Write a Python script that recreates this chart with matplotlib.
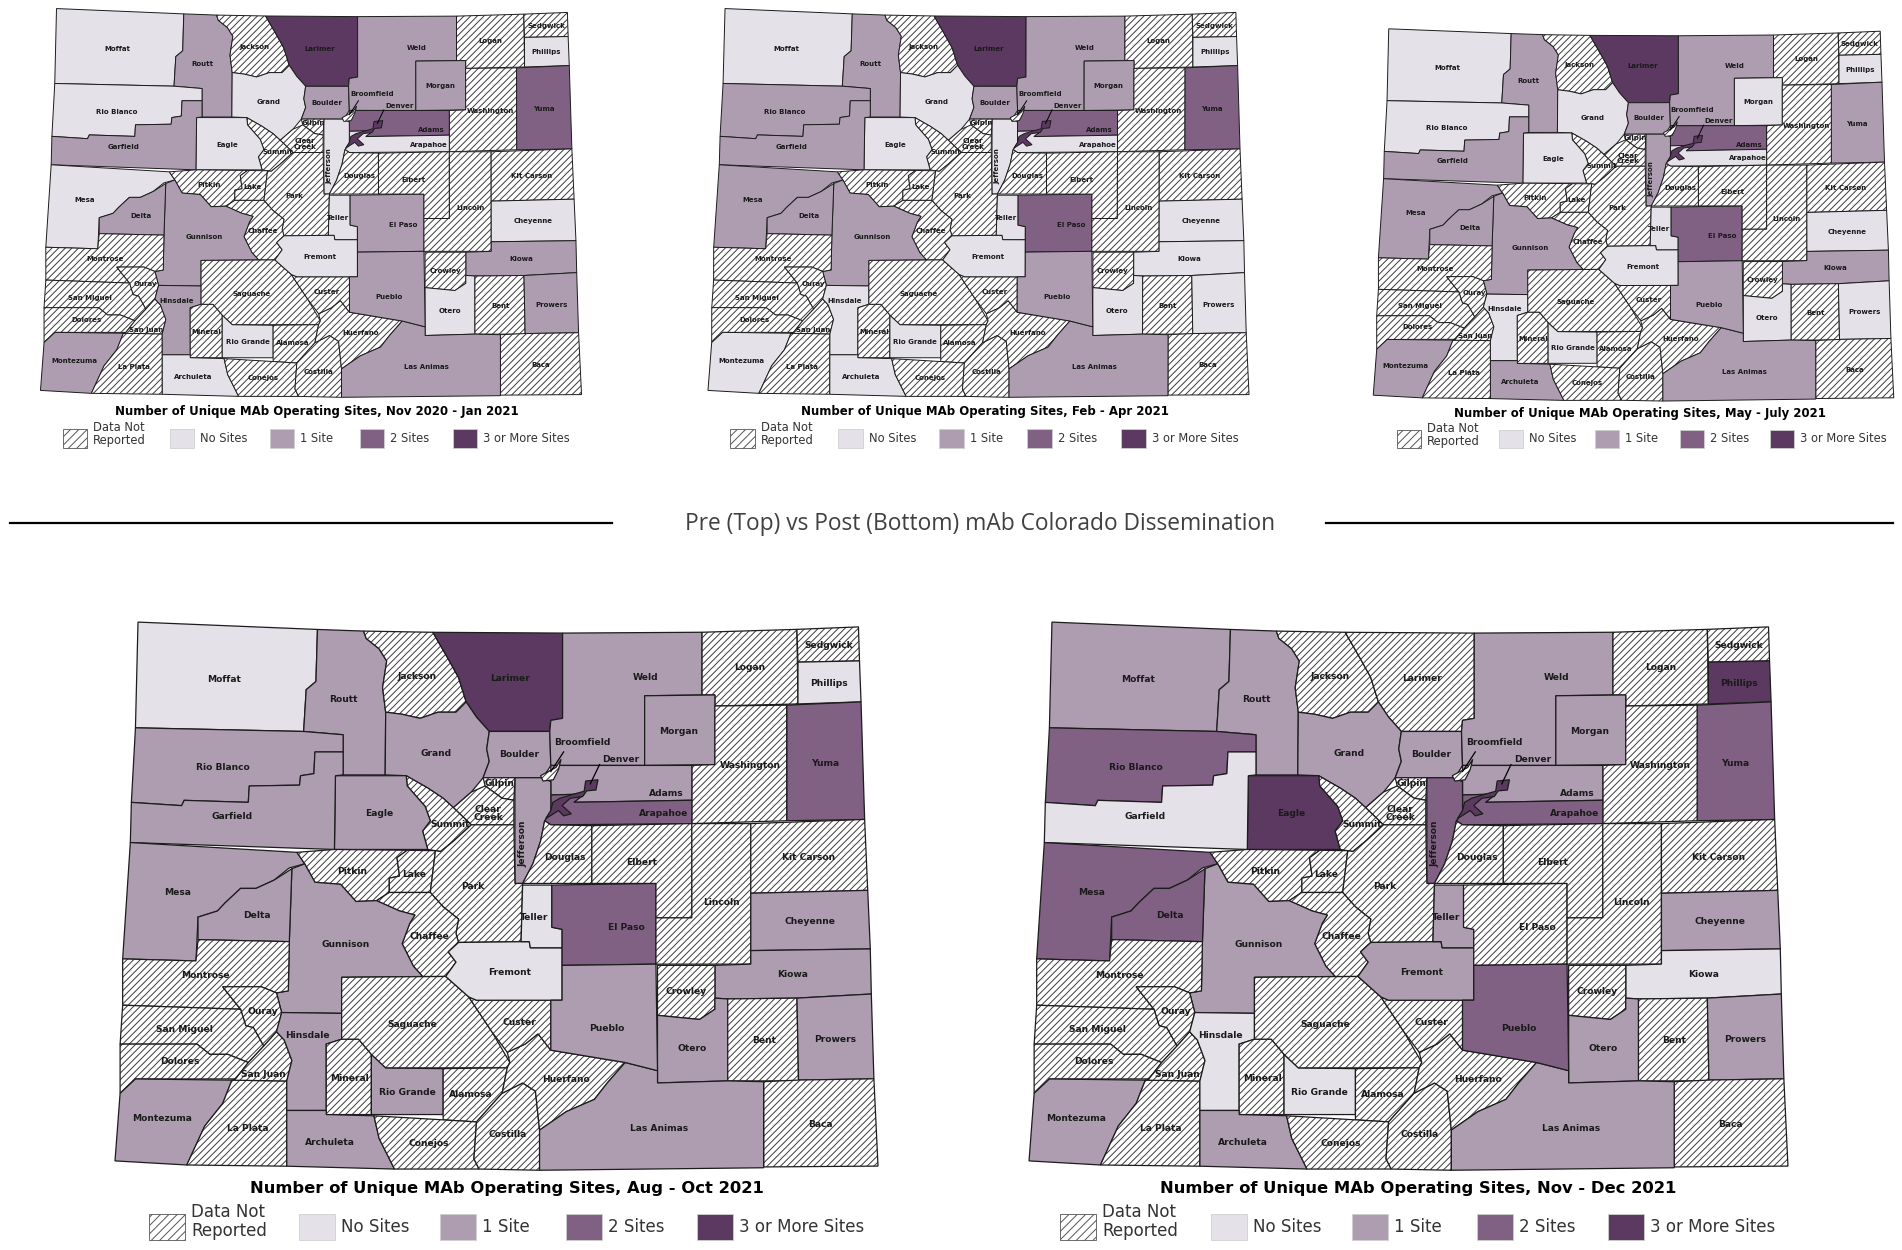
import matplotlib
matplotlib.use('Agg')
import matplotlib.pyplot as plt
import numpy as np
from matplotlib.patches import Polygon, Rectangle
from matplotlib.transforms import Affine2D

W, H = 1902, 1250
NR = -1  # data not reported

COLORS = {NR: 'white', 0: '#E5E1E8', 1: '#AE9DB1', 2: '#806184', 3: '#5C3961'}
LEGEND_LABELS = ['Data Not\nReported', 'No Sites', '1 Site', '2 Sites', '3 or More Sites']
LEGEND_CODES = [NR, 0, 1, 2, 3]

# county outlines, traced off the Aug - Oct map (tracing units, not pixels)
SHAPES = {
    'Moffat': [(75, 30), (425, 48), (422, 175), (403, 195), (398, 297), (70, 288)],
    'Routt': [(425, 48), (515, 52), (520, 70), (545, 95), (560, 125), (552, 190), (558, 250), (557, 403),
              (475, 403), (475, 305), (398, 297), (403, 195), (422, 175)],
    'Jackson': [(515, 52), (650, 55), (680, 120), (700, 165), (715, 225), (695, 250), (660, 250), (625, 265),
                (590, 255), (558, 250), (552, 190), (560, 125), (545, 95), (520, 70)],
    'Larimer': [(650, 55), (903, 57), (903, 265), (880, 270), (878, 297), (760, 297), (735, 262), (715, 225),
                (700, 165), (680, 120)],
    'Grand': [(558, 250), (590, 255), (625, 265), (660, 250), (695, 250), (715, 225), (735, 262), (760, 297),
              (755, 340), (760, 370), (748, 410), (725, 445), (690, 483), (670, 460), (640, 435), (598, 405),
              (557, 403)],
    'Boulder': [(760, 297), (878, 297), (880, 380), (865, 410), (748, 410), (760, 370), (755, 340)],
    'Weld': [(903, 57), (1175, 55), (1175, 208), (1063, 210), (1063, 380), (880, 380), (878, 297), (880, 270),
             (903, 265)],
    'Logan': [(1175, 55), (1360, 48), (1362, 230), (1200, 235), (1200, 208), (1175, 208)],
    'Sedgwick': [(1360, 48), (1480, 42), (1482, 125), (1362, 128)],
    'Phillips': [(1362, 128), (1482, 125), (1485, 225), (1362, 230)],
    'Morgan': [(1063, 210), (1200, 208), (1200, 378), (1063, 380)],
    'Yuma': [(1340, 233), (1485, 225), (1492, 512), (1340, 515)],
    'Washington': [(1200, 235), (1340, 233), (1340, 515), (1155, 522), (1155, 380), (1200, 378)],
    'Adams': [(880, 380), (1155, 380), (1155, 465), (925, 470), (945, 450), (880, 452)],
    'Arapahoe': [(880, 452), (945, 450), (925, 470), (1155, 465), (1155, 522), (880, 525), (868, 515), (880, 492)],
    'Jefferson': [(810, 410), (865, 410), (880, 420), (880, 492), (868, 515), (860, 565), (845, 620), (825, 668),
                  (810, 668)],
    'Gilpin': [(748, 410), (810, 410), (808, 465), (785, 460), (752, 430)],
    'Clear\nCreek': [(690, 483), (725, 445), (752, 430), (785, 460), (808, 465), (808, 525), (725, 525)],
    'Summit': [(598, 405), (640, 435), (670, 460), (690, 483), (725, 525), (690, 565), (665, 590), (640, 585),
               (630, 540), (645, 515), (635, 480), (600, 430)],
    'Eagle': [(460, 405), (598, 405), (600, 430), (635, 480), (645, 515), (630, 540), (640, 585), (458, 585)],
    'Rio Blanco': [(70, 288), (398, 297), (475, 305), (475, 347), (420, 347), (418, 400), (392, 405), (390, 428),
                   (292, 430), (290, 470), (165, 465), (160, 478), (62, 470)],
    'Garfield': [(62, 470), (160, 478), (165, 465), (290, 470), (292, 430), (390, 428), (392, 405), (418, 400),
                 (420, 347), (475, 347), (475, 403), (460, 405), (458, 585), (60, 568)],
    'Mesa': [(60, 568), (385, 592), (400, 620), (370, 630), (340, 660), (305, 680), (275, 680), (245, 715),
             (230, 735), (192, 750), (188, 857), (45, 852)],
    'Pitkin': [(385, 592), (458, 585), (600, 587), (580, 605), (585, 650), (565, 655), (565, 690),
               (540, 710), (500, 712), (470, 670), (420, 665), (400, 620)],
    'Lake': [(600, 587), (655, 588), (645, 690), (565, 690), (565, 655), (585, 650), (580, 605)],
    'Park': [(655, 588), (665, 590), (690, 565), (725, 525), (808, 525), (810, 668), (825, 668), (822, 810),
             (700, 812), (695, 790), (700, 755), (670, 725), (645, 690)],
    'Chaffee': [(565, 690), (645, 690), (670, 725), (700, 755), (695, 790), (700, 812), (680, 835), (695, 860),
                (675, 895), (630, 895), (612, 870), (590, 815), (605, 765), (615, 745), (585, 735), (540, 710)],
    'Gunnison': [(375, 632), (400, 620), (420, 665), (470, 670), (500, 712), (540, 710), (585, 735), (615, 745),
                 (605, 765), (590, 815), (612, 870), (630, 895), (472, 897), (472, 985), (355, 983), (345, 935),
                 (368, 930), (370, 810)],
    'Delta': [(375, 632), (370, 810), (192, 805), (192, 750), (230, 735), (245, 715), (275, 680), (305, 680),
              (340, 660)],
    'Montrose': [(45, 852), (188, 857), (192, 805), (370, 810), (368, 930), (345, 935), (315, 920), (240, 920),
                 (275, 975), (45, 965)],
    'Ouray': [(240, 920), (315, 920), (345, 935), (355, 983), (345, 1030), (320, 1065), (300, 1020), (285, 1015),
              (275, 975)],
    'San Miguel': [(45, 965), (275, 975), (285, 1015), (300, 1020), (320, 1065), (290, 1105), (250, 1085),
                   (215, 1085), (190, 1060), (40, 1060)],
    'Dolores': [(40, 1060), (190, 1060), (215, 1085), (250, 1085), (290, 1105), (265, 1145), (70, 1145), (40, 1180)],
    'Montezuma': [(70, 1145), (258, 1148), (240, 1205), (205, 1260), (170, 1355), (30, 1345), (40, 1180)],
    'La Plata': [(258, 1148), (365, 1150), (365, 1358), (170, 1355), (205, 1260), (240, 1205)],
    'San Juan': [(265, 1145), (290, 1105), (320, 1065), (345, 1030), (360, 1050), (375, 1100), (365, 1150),
                 (258, 1148)],
    'Hinsdale': [(355, 983), (472, 985), (472, 1048), (442, 1060), (442, 1222), (365, 1222), (365, 1150),
                 (375, 1100), (360, 1050), (345, 1030)],
    'Mineral': [(442, 1060), (472, 1048), (505, 1048), (530, 1085), (530, 1232), (442, 1232)],
    'Archuleta': [(365, 1222), (442, 1222), (442, 1232), (535, 1235), (545, 1290), (575, 1365), (365, 1358)],
    'Rio Grande': [(530, 1085), (558, 1118), (670, 1120), (670, 1232), (530, 1232)],
    'Saguache': [(472, 897), (675, 895), (720, 945), (765, 1030), (800, 1105), (795, 1118), (558, 1118), (530, 1085),
                 (505, 1048), (472, 1048)],
    'Alamosa': [(670, 1120), (795, 1118), (785, 1180), (735, 1250), (670, 1245)],
    'Conejos': [(535, 1235), (670, 1245), (735, 1250), (730, 1340), (740, 1365), (575, 1365), (545, 1290)],
    'Costilla': [(735, 1250), (785, 1180), (825, 1155), (850, 1175), (858, 1270), (858, 1368), (740, 1365),
                 (730, 1340)],
    'Huerfano': [(800, 1105), (795, 1080), (830, 1060), (855, 1035), (880, 1075), (1025, 1105), (990, 1155),
                 (965, 1195), (910, 1225), (858, 1270), (850, 1175), (825, 1155), (785, 1180), (795, 1118)],
    'Custer': [(720, 945), (735, 953), (880, 953), (880, 1075), (855, 1035), (830, 1060), (795, 1080), (765, 1030)],
    'Fremont': [(700, 812), (838, 810), (840, 825), (902, 825), (902, 953), (735, 953), (720, 945), (675, 895),
                (695, 860), (680, 835)],
    'Teller': [(825, 672), (882, 672), (882, 775), (902, 780), (902, 825), (840, 825), (838, 810), (822, 810)],
    'El Paso': [(882, 672), (1085, 668), (1085, 865), (902, 868), (902, 780), (882, 775)],
    'Douglas': [(880, 525), (960, 527), (960, 668), (825, 668), (845, 620), (860, 565), (868, 515)],
    'Elbert': [(960, 527), (1155, 522), (1155, 752), (1085, 752), (1085, 668), (960, 668)],
    'Lincoln': [(1155, 522), (1270, 522), (1270, 865), (1085, 865), (1085, 752), (1155, 752)],
    'Kit Carson': [(1270, 522), (1492, 512), (1498, 685), (1270, 692)],
    'Cheyenne': [(1270, 692), (1498, 685), (1503, 828), (1270, 832)],
    'Kiowa': [(1270, 832), (1503, 828), (1505, 938), (1360, 948), (1225, 950), (1200, 948), (1200, 868), (1270, 865)],
    'Crowley': [(1088, 868), (1200, 868), (1200, 975), (1170, 1000), (1088, 990)],
    'Otero': [(1088, 990), (1170, 1000), (1200, 975), (1200, 948), (1225, 950), (1225, 1150), (1088, 1155)],
    'Bent': [(1225, 950), (1360, 948), (1363, 1150), (1225, 1150)],
    'Prowers': [(1360, 948), (1505, 938), (1510, 1145), (1363, 1148)],
    'Baca': [(1295, 1152), (1363, 1148), (1510, 1145), (1518, 1358), (1295, 1360)],
    'Las Animas': [(1025, 1105), (1088, 1125), (1088, 1155), (1225, 1150), (1295, 1152), (1295, 1362), (858, 1368),
                   (858, 1270), (910, 1225), (965, 1195), (990, 1155)],
    'Pueblo': [(880, 953), (902, 953), (902, 868), (1085, 865), (1088, 1125), (1025, 1105), (880, 1075)],
    'Denver': [(948, 418), (972, 415), (968, 440), (950, 442), (942, 456), (918, 460), (902, 478), (920, 498),
               (905, 503), (895, 490), (870, 510), (880, 490), (884, 470), (898, 460), (925, 450), (945, 443)],
    'Broomfield': [(860, 405), (890, 385), (900, 365), (895, 390), (885, 415), (865, 418)],
}

# where each name sits, same tracing units
LABEL_XY = {
    'Moffat': (243, 170), 'Routt': (475, 220), 'Jackson': (620, 163), 'Larimer': (800, 167), 'Grand': (657, 350),
    'Boulder': (818, 353), 'Weld': (1065, 165), 'Logan': (1268, 142), 'Sedgwick': (1422, 88), 'Phillips': (1422, 180),
    'Morgan': (1130, 297), 'Yuma': (1414, 375), 'Washington': (1268, 380), 'Adams': (1105, 448),
    'Arapahoe': (1100, 498), 'Jefferson': (826, 572), 'Gilpin': (780, 425), 'Clear\nCreek': (758, 497),
    'Summit': (683, 523), 'Eagle': (545, 498), 'Rio Blanco': (240, 385), 'Garfield': (258, 505), 'Mesa': (152, 690),
    'Pitkin': (493, 638), 'Lake': (613, 645), 'Park': (728, 675), 'Chaffee': (643, 797), 'Gunnison': (480, 818),
    'Delta': (306, 745), 'Montrose': (207, 892), 'Ouray': (318, 980), 'San Miguel': (165, 1025), 'Dolores': (157, 1102),
    'Montezuma': (122, 1242), 'La Plata': (288, 1265), 'San Juan': (320, 1135), 'Hinsdale': (405, 1038),
    'Mineral': (487, 1143), 'Archuleta': (450, 1300), 'Rio Grande': (600, 1177), 'Saguache': (610, 1013),
    'Alamosa': (723, 1182), 'Conejos': (642, 1302), 'Costilla': (795, 1280), 'Huerfano': (910, 1147),
    'Custer': (818, 1007), 'Fremont': (800, 885), 'Teller': (848, 752), 'El Paso': (1027, 775), 'Douglas': (908, 605),
    'Elbert': (1057, 618), 'Lincoln': (1212, 715), 'Kit Carson': (1382, 605), 'Cheyenne': (1385, 762),
    'Kiowa': (1352, 890), 'Crowley': (1143, 933), 'Otero': (1155, 1072), 'Bent': (1295, 1052), 'Prowers': (1435, 1048),
    'Baca': (1405, 1257), 'Las Animas': (1092, 1265), 'Pueblo': (990, 1023), 'Denver': (1017, 365),
    'Broomfield': (942, 325),
}

COUNTIES = list(SHAPES)

# sites per county, same order as COUNTIES, ten counties per row
NOV_JAN = [0, 1, NR, 3, 0, 1, 1, NR, NR, 0,
           1, 2, NR, 2, 0, 0, NR, NR, NR, 0,
           0, 1, 0, NR, NR, NR, NR, 1, 1, NR,
           NR, NR, NR, 1, NR, NR, 1, NR, 0, 0,
           NR, NR, NR, NR, NR, NR, 0, 0, 1, NR,
           NR, NR, NR, 0, 1, NR, 0, NR, 1, NR,
           1, 1, 3, NR]
FEB_APR = [0, 1, NR, 3, 0, 1, 1, NR, NR, 0,
           1, 2, NR, 2, 0, 0, NR, NR, NR, 0,
           1, 1, 1, NR, NR, NR, NR, 1, 1, NR,
           NR, NR, NR, 0, NR, NR, 0, NR, 0, 0,
           NR, NR, NR, NR, NR, NR, 0, 0, 2, NR,
           NR, NR, NR, 0, 0, NR, 0, NR, 0, NR,
           1, 1, 3, NR]
MAY_JUL = [0, 1, NR, 3, 0, 1, 1, NR, NR, 0,
           0, 1, NR, 2, 0, 1, NR, NR, NR, 0,
           0, 1, 1, NR, NR, NR, NR, 1, 1, NR,
           NR, NR, NR, 1, NR, NR, 0, NR, 1, 0,
           NR, NR, NR, NR, NR, NR, 0, 0, 2, NR,
           NR, NR, NR, 0, 1, NR, 0, NR, 0, NR,
           1, 1, 3, NR]
AUG_OCT = [0, 1, NR, 3, 1, 1, 1, NR, NR, 0,
           1, 2, NR, 1, 2, 1, NR, NR, NR, 1,
           1, 1, 1, NR, NR, NR, NR, 1, 1, NR,
           NR, NR, NR, 1, NR, NR, 1, NR, 1, 1,
           NR, NR, NR, NR, NR, NR, 0, 0, 2, NR,
           NR, NR, NR, 1, 1, NR, 1, NR, 1, NR,
           1, 1, 3, NR]
NOV_DEC = [1, 1, NR, NR, 1, 1, 1, NR, NR, 3,
           1, 2, NR, 1, 2, 2, NR, NR, NR, 3,
           2, 0, 2, NR, NR, NR, NR, 1, 2, NR,
           NR, NR, NR, 1, NR, NR, 0, NR, 1, 0,
           NR, NR, NR, NR, NR, NR, 1, 1, NR, NR,
           NR, NR, NR, 1, 0, NR, 1, NR, 1, NR,
           1, 2, 3, NR]

TITLES = ['Number of Unique MAb Operating Sites, Nov 2020 - Jan 2021',
          'Number of Unique MAb Operating Sites, Feb - Apr 2021',
          'Number of Unique MAb Operating Sites, May - July 2021',
          'Number of Unique MAb Operating Sites, Aug - Oct 2021',
          'Number of Unique MAb Operating Sites, Nov - Dec 2021']

BASE = np.array([(75, 30), (1483, 42), (1518, 1358), (30, 1345)], float)
CORNERS = [[(57, 9), (568, 12), (582, 395), (40, 390)],
           [(725, 9), (1237, 12), (1249, 395), (708, 390)],
           [(1389, 29), (1881, 31), (1894, 398), (1373, 395)],
           [(138, 622), (860, 627), (878, 1166), (115, 1161)],
           [(1052, 622), (1770, 627), (1788, 1166), (1029, 1161)]]
TITLE_XY = [(317, 411), (985, 411), (1640, 414), (507, 1188), (1418, 1188)]
LEGEND_X0 = [63, 730, 1397, 149, 1060]
LEGEND_Y = [438, 438, 439, 1227, 1227]
LEGEND_DX = [[0, 107, 207, 297, 390], [0, 108, 209, 297, 391], [0, 102, 198, 283, 373],
             [0, 150, 291, 417, 548], [0, 151, 292, 417, 548]]
SWATCH = [(24, 19), (25, 19), (24, 18), (36, 26), (36, 26)]
LABEL_PT = [5.0, 5.0, 5.0, 6.6, 6.6]
TITLE_PT = [8.5, 8.5, 8.5, 11.8, 11.8]
LEGEND_PT = [8.3, 8.3, 8.3, 12, 12]
EDGE_LW = [0.7, 0.7, 0.7, 0.9, 0.9]

plt.rcParams['hatch.linewidth'] = 0.7

fig = plt.figure(figsize=(W / 100, H / 100), dpi=100)
ax = fig.add_axes([0, 0, 1, 1])
ax.set_xlim(0, W)
ax.set_ylim(H, 0)
ax.axis('off')


def base_to_panel(corners):
    # plain least-squares affine from the tracing units to figure pixels
    src = np.column_stack([BASE, np.ones(4)])
    coef, *_ = np.linalg.lstsq(src, np.array(corners, float), rcond=None)
    return Affine2D(np.vstack([coef.T, [0, 0, 1]]))


def draw_map(i, values):
    tr = base_to_panel(CORNERS[i]) + ax.transData
    for name, val in zip(COUNTIES, values, strict=True):
        pts = SHAPES[name]
        if val == NR:
            ax.add_patch(Polygon(pts, closed=True, facecolor='white', edgecolor='#3a3a3a', lw=0,
                                 hatch='/////', transform=tr))
        else:
            ax.add_patch(Polygon(pts, closed=True, facecolor=COLORS[val], edgecolor='none', transform=tr))
        ax.add_patch(Polygon(pts, closed=True, fill=False, edgecolor='#1c1c1c', lw=EDGE_LW[i], transform=tr))

    for name in COUNTIES:
        x, y = LABEL_XY[name]
        ax.text(x, y, name, transform=tr, fontsize=LABEL_PT[i], weight='bold', ha='center', va='center',
                color='#1a1a1a', linespacing=0.95, rotation=90 if name == 'Jefferson' else 0)

    # leader lines for the two tiny counties
    ax.plot([905, 880], [347, 395], color='black', lw=EDGE_LW[i], transform=tr)
    ax.plot([975, 957], [378, 425], color='black', lw=EDGE_LW[i], transform=tr)


def draw_legend(i):
    w, h = SWATCH[i]
    y = LEGEND_Y[i]
    for code, label, dx in zip(LEGEND_CODES, LEGEND_LABELS, LEGEND_DX[i]):
        x = LEGEND_X0[i] + dx
        hatch = '////' if code == NR else None
        ax.add_patch(Rectangle((x, y - h / 2), w, h, facecolor=COLORS[code], edgecolor='#555555' if code == NR else '#cfcfcf',
                               lw=0.6, hatch=hatch))
        # the two-line entry sits a bit higher than its swatch
        ty = y - (h * 0.22 if code == NR else 0)
        ax.text(x + w + 6, ty, label, fontsize=LEGEND_PT[i], va='center', ha='left', color='#333333', linespacing=1.05)


for i, values in enumerate([NOV_JAN, FEB_APR, MAY_JUL, AUG_OCT, NOV_DEC]):
    draw_map(i, values)
    ax.text(*TITLE_XY[i], TITLES[i], fontsize=TITLE_PT[i], weight='bold', ha='center', va='center', color='black')
    draw_legend(i)

ax.plot([10, 612], [523, 523], color='black', lw=1.6)
ax.plot([1326, 1893], [523, 523], color='black', lw=1.6)
ax.text(980, 524, 'Pre (Top) vs Post (Bottom) mAb Colorado Dissemination', fontsize=16.4, family='Open Sans',
        color='#404040', ha='center', va='center')

fig.savefig('out.png', dpi=100)
